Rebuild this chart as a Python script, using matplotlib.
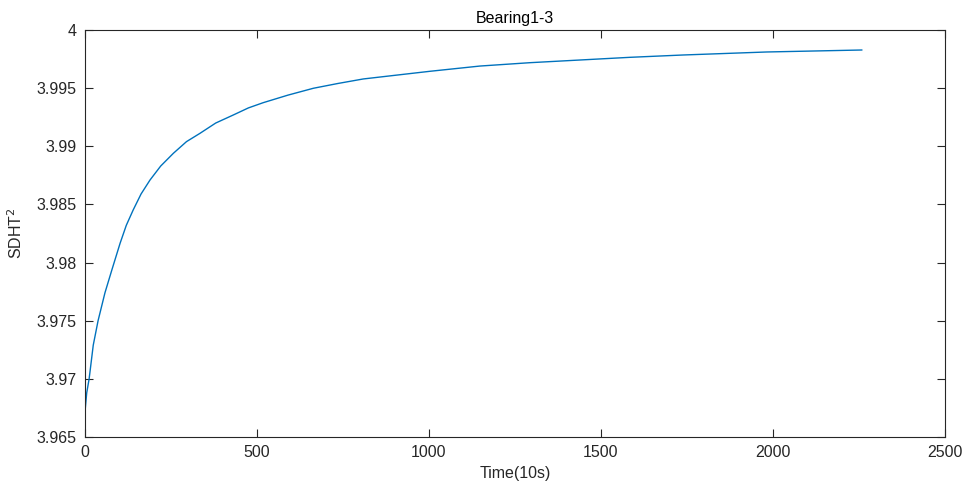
import matplotlib
matplotlib.use('Agg')
import matplotlib.pyplot as plt

# values
time = [0, 5, 12, 24, 38, 58, 78, 102, 120, 140, 163, 189, 220, 257, 295,
        334, 380, 431, 475, 518, 590, 664, 735, 809, 900, 1003, 1148, 1294,
        1439, 1584, 1738, 1982, 2258]
sdht = [3.96718, 3.96880, 3.97000, 3.97290, 3.97500, 3.97740, 3.97936,
        3.98166, 3.98320, 3.98452, 3.98590, 3.98710, 3.98830, 3.98940,
        3.99040, 3.99111, 3.99200, 3.99269, 3.99330, 3.99375, 3.99440,
        3.99499, 3.99540, 3.99579, 3.99610, 3.99645, 3.99690, 3.99719,
        3.99742, 3.99765, 3.99785, 3.99811, 3.99828]
xticks = [0, 500, 1000, 1500, 2000, 2500]
yticks = [3.965, 3.97, 3.975, 3.98, 3.985, 3.99, 3.995, 4.0]
ytick_labels = ['3.965', '3.97', '3.975', '3.98', '3.985', '3.99', '3.995', '4']

plt.rcParams['font.family'] = ['Liberation Sans', 'DejaVu Sans']
axcol = '#262626'

fig = plt.figure(figsize=(9.68, 4.96), dpi=100)
ax = fig.add_axes([85 / 968, 1 - 437 / 496, 860 / 968, 407 / 496])
ax.plot(time, sdht, color='#0072BD', lw=1.0)

ax.set_xlim(0, 2500)
ax.set_ylim(3.965, 4.0)
ax.set_xticks(xticks)
ax.set_xticklabels([str(t) for t in xticks])
ax.set_yticks(yticks)
ax.set_yticklabels(ytick_labels)
ax.tick_params(direction='in', length=6, width=0.8, colors=axcol,
               labelsize=11.5, top=True, right=True, pad=6)
for s in ax.spines.values():
    s.set_color(axcol)
    s.set_linewidth(0.8)

ax.set_title('Bearing1-3', fontsize=11.5, color='black', pad=5)
ax.set_xlabel('Time(10s)', fontsize=11.5, color=axcol, labelpad=4)
ax.set_ylabel('SDHT$^2$', fontsize=11.5, color=axcol, labelpad=8)

fig.savefig('out.png', dpi=100)
